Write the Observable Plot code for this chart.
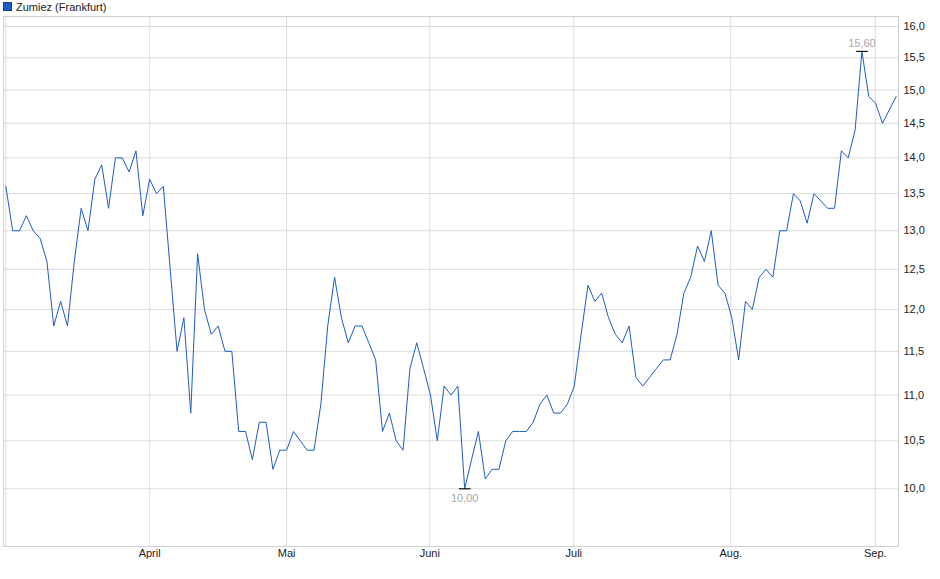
<!DOCTYPE html>
<html>
<head>
<meta charset="utf-8">
<script src="https://cdn.jsdelivr.net/npm/d3@7"></script>
<script src="https://cdn.jsdelivr.net/npm/@observablehq/plot@0.6"></script>
<style>
  html, body { margin: 0; padding: 0; background: #fff; }
  #wrap { position: relative; width: 940px; height: 579px; font-family: "Liberation Sans", Arial, sans-serif; }
  #legend { position: absolute; left: 3px; top: 0px; font-size: 11px; color: #222; display: flex; align-items: center; height: 13px; }
  #legend .sw { width: 7px; height: 7px; background: #1f5bc6; border: 1px solid #1a3f80; margin-right: 4px; }
  #chart { position: absolute; left: 0; top: 0; }
</style>
</head>
<body>
<div id="wrap">
  <div id="chart"></div>
  <div id="legend"><span class="sw"></span><span>Zumiez (Frankfurt)</span></div>
</div>
<script>
// Closing prices (EUR), one per trading day
const prices = [
  13.6,13.0,13.0,13.2,13.0,12.9,12.6,11.8,12.1,11.8,12.6,13.3,13.0,13.7,13.9,13.3,14.0,14.0,13.8,14.1,13.2,13.7,13.5,13.6,12.5,
  11.5,11.9,10.8,12.7,12.0,11.7,11.8,11.5,11.5,10.6,10.6,10.3,10.7,10.7,10.2,10.4,10.4,10.6,10.5,10.4,
  10.4,10.9,11.8,12.4,11.9,11.6,11.8,11.8,11.6,11.4,10.6,10.8,10.5,10.4,11.3,11.6,11.3,11.0,10.5,11.1,11.0,11.1,
  10.0,10.3,10.6,10.1,10.2,10.2,10.5,10.6,10.6,10.6,10.7,10.9,11.0,10.8,10.8,10.9,11.1,11.7,12.3,12.1,12.2,11.9,11.7,11.6,
  11.8,11.2,11.1,11.2,11.3,11.4,11.4,11.7,12.2,12.4,12.8,12.6,13.0,12.3,12.2,11.9,11.4,12.1,12.0,12.4,12.5,12.4,
  13.0,13.0,13.5,13.4,13.1,13.5,13.4,13.3,13.3,14.1,14.0,14.4,15.6,14.9,14.8,14.5,14.7,14.9
];
// Month boundaries (trading-day index) and their labels
const monthPos = [21, 41, 61.9, 82.93, 105.85, 126.95];
const monthLabels = ["April", "Mai", "Juni", "Juli", "Aug.", "Sep."];
// Price axis ticks
const yTicks = [10.0, 10.5, 11.0, 11.5, 12.0, 12.5, 13.0, 13.5, 14.0, 14.5, 15.0, 15.5, 16.0];

const data = prices.map((v, i) => ({i, v}));
const iMax = d3.maxIndex(prices);
const iMin = d3.minIndex(prices);
const extremes = [
  {i: iMax, v: prices[iMax], pos: "top"},
  {i: iMin, v: prices[iMin], pos: "bottom"}
];
const fmt1 = d => d.toFixed(1).replace(".", ",");
const fmt2 = d => d.toFixed(2).replace(".", ",");
const monthMap = new Map(monthPos.map((p, k) => [p, monthLabels[k]]));

const chart = Plot.plot({
  width: 940,
  height: 579,
  marginLeft: 3,
  marginRight: 42,
  marginTop: 16,
  marginBottom: 33,
  style: {fontFamily: "Liberation Sans, Arial, sans-serif", fontSize: "11px", color: "#222", background: "#fff"},
  x: {domain: [-0.34, 130.34], axis: null},
  y: {type: "log", domain: [9.43, 16.164], axis: null},
  marks: [
    Plot.ruleY(yTicks, {stroke: "#dcdcdc", strokeWidth: 1}),
    Plot.ruleX(monthPos, {stroke: "#dcdcdc", strokeWidth: 1}),
    Plot.ruleX([0], {stroke: "#dcdcdc", strokeWidth: 1}),
    Plot.frame({stroke: "#cfcfcf", strokeWidth: 1}),
    Plot.axisY({anchor: "right", ticks: yTicks, tickSize: 0, tickPadding: 5, tickFormat: fmt1, label: null, fill: "#222", fontSize: 11}),
    Plot.axisX({anchor: "bottom", ticks: monthPos, tickSize: 0, tickPadding: 3, tickFormat: d => monthMap.get(d), label: null, fill: "#222", fontSize: 11}),
    Plot.line(data, {x: "i", y: "v", stroke: "#1f5bc6", strokeWidth: 1, curve: "linear"}),
    Plot.link(extremes, {x1: d => d.i - 0.85, x2: d => d.i + 0.85, y1: "v", y2: "v", stroke: "#111", strokeWidth: 1.2}),
    Plot.text(extremes.filter(d => d.pos === "top"), {x: "i", y: "v", text: d => fmt2(d.v), lineAnchor: "bottom", dy: -4, fill: "#a8a8a8", fontSize: 11}),
    Plot.text(extremes.filter(d => d.pos === "bottom"), {x: "i", y: "v", text: d => fmt2(d.v), lineAnchor: "top", dy: 5, fill: "#a8a8a8", fontSize: 11})
  ]
});
document.getElementById("chart").appendChild(chart);
</script>
</body>
</html>
